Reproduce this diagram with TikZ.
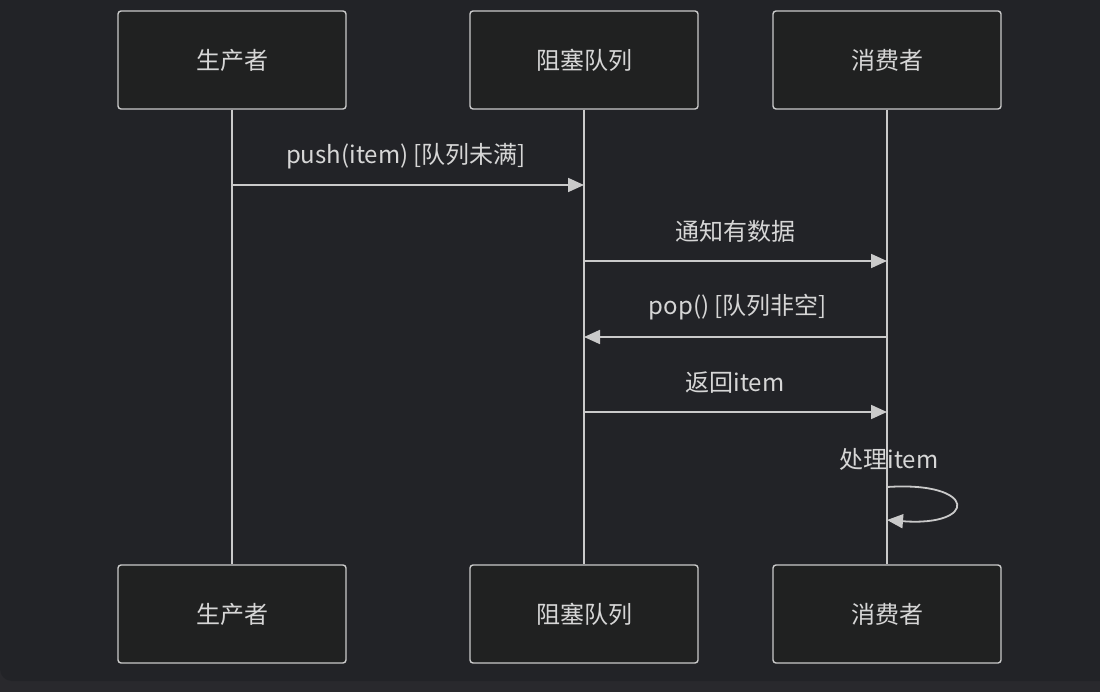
\documentclass[tikz,border=0pt]{standalone}
\usepackage{fontspec}
\setmainfont{Noto Sans CJK SC}
\usetikzlibrary{arrows.meta}
\definecolor{bgstrip}{HTML}{29292D}
\definecolor{bgmain}{HTML}{222327}
\definecolor{boxfill}{HTML}{202121}
\definecolor{edge}{HTML}{CACACA}
\definecolor{txt}{HTML}{D6D6D6}
\tikzset{
  actor/.style={draw=edge, line width=1.4pt, fill=boxfill, rounded corners=3pt,
    minimum width=228pt, minimum height=98pt, inner sep=0pt,
    text=txt, font=\fontsize{24}{28}\selectfont},
  life/.style={draw=edge, line width=2.2pt},
  msg/.style={draw=edge, line width=1.8pt, -{Triangle[length=16pt,width=14pt]}},
  lbl/.style={text=txt, font=\fontsize{24}{28}\selectfont, inner sep=0pt}
}
\begin{document}
\begin{tikzpicture}[x=1pt,y=-1pt]
\useasboundingbox (0,0) rectangle (1100,692);
\fill[bgstrip] (0,0) rectangle (1100,692);
\fill[bgmain, rounded corners=12pt] (0,-20) rectangle (1130,681);

% actors
\node[actor] (a1) at (232,60) {生产者};
\node[actor] (a2) at (584,60) {阻塞队列};
\node[actor] (a3) at (887,60) {消费者};
\node[actor] (b1) at (232,614) {生产者};
\node[actor] (b2) at (584,614) {阻塞队列};
\node[actor] (b3) at (887,614) {消费者};

% lifelines
\draw[life] (a1.south) -- (b1.north);
\draw[life] (a2.south) -- (b2.north);
\draw[life] (a3.south) -- (b3.north);

% message anchor points
\coordinate (m1s) at (232,185);
\coordinate (m1e) at (584,185);
\coordinate (m2s) at (584,261);
\coordinate (m2e) at (887,261);
\coordinate (m3s) at (887,337);
\coordinate (m3e) at (584,337);
\coordinate (m4s) at (584,412);
\coordinate (m4e) at (887,412);
\coordinate (m5s) at (887,487);
\coordinate (m5e) at (887,520);

\draw[msg] (m1s) -- (m1e);
\node[lbl] (t1) at (406,156) {push(item) [队列未满]};
\draw[msg] (m2s) -- (m2e);
\node[lbl] (t2) at (735,231) {通知有数据};
\draw[msg] (m3s) -- (m3e);
\node[lbl] (t3) at (738,307) {pop() [队列非空]};
\draw[msg] (m4s) -- (m4e);
\node[lbl] (t4) at (735,383) {返回item};
\node[lbl] (t5) at (889,459) {处理item};
\draw[msg] (m5s) .. controls (978,481) and (978,527) .. (m5e);
\end{tikzpicture}
\end{document}
